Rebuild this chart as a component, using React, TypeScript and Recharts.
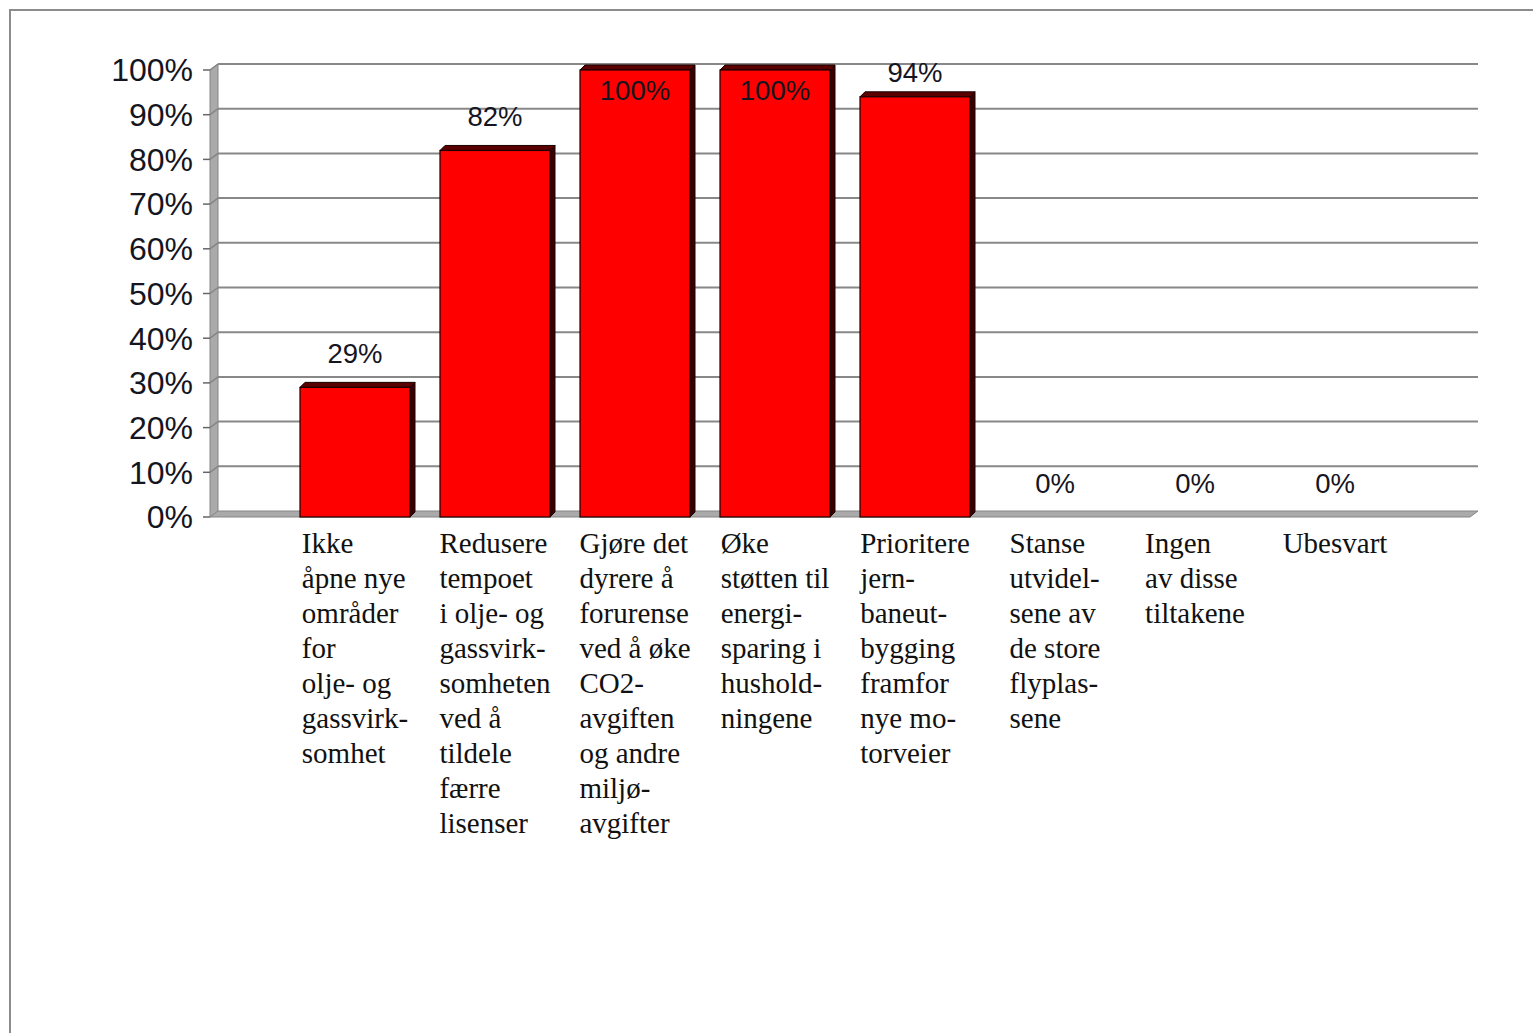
import React from "react";
import { BarChart, Bar, XAxis, YAxis, CartesianGrid, LabelList } from "recharts";

const categories = [
  "Ikke\nåpne nye\nområder\nfor\nolje- og\ngassvirk-\nsomhet",
  "Redusere\ntempoet\ni olje- og\ngassvirk-\nsomheten\nved å\ntildele\nfærre\nlisenser",
  "Gjøre det\ndyrere å\nforurense\nved å øke\nCO2-\navgiften\nog andre\nmiljø-\navgifter",
  "Øke\nstøtten til\nenergi-\nsparing i\nhushold-\nningene",
  "Prioritere\njern-\nbaneut-\nbygging\nframfor\nnye mo-\ntorveier",
  "Stanse\nutvidel-\nsene av\nde store\nflyplas-\nsene",
  "Ingen\nav disse\ntiltakene",
  "Ubesvart",
];
const values = [29, 82, 100, 100, 94, 0, 0, 0];
const yTicks = [0, 10, 20, 30, 40, 50, 60, 70, 80, 90, 100];

const data = categories.map((name, i) => ({ name, value: values[i] }));

const W = 1533;
const H = 1033;
const MARGIN = { top: 70, right: 63, bottom: 186, left: 110 };
const Y_AXIS_W = 100;
const X_AXIS_H = 330;
const PLOT_TOP = MARGIN.top;
const PLOT_BOTTOM = H - MARGIN.bottom - X_AXIS_H;
const DX = 8;
const DY = -6;
const SANS = '"Liberation Sans", Arial, sans-serif';
const SERIF = '"Liberation Serif", "Times New Roman", serif';
const X_FONT = 29;

let measureCtx: CanvasRenderingContext2D | null = null;
function measure(text: string, font: string): number {
  if (!measureCtx) {
    const c = document.createElement("canvas");
    measureCtx = c.getContext("2d");
  }
  if (!measureCtx) return text.length * 13;
  measureCtx.font = font;
  return measureCtx.measureText(text).width;
}

const XTick = (props: any) => {
  const { x, y, payload } = props;
  const lines: string[] = String(payload.value).split("\n");
  const font = `${X_FONT}px ${SERIF}`;
  const maxW = Math.max(...lines.map((l) => measure(l, font)));
  const left = x - maxW / 2;
  return (
    <text x={left} y={y + 36} fontFamily={SERIF} fontSize={X_FONT} fill="#111">
      {lines.map((l, i) => (
        <tspan key={i} x={left} dy={i === 0 ? 0 : 35}>
          {l}
        </tspan>
      ))}
    </text>
  );
};

const GridLine = (props: any) => {
  const { x1, y1, x2, y2 } = props;
  const isFloor = Math.abs(y1 - PLOT_BOTTOM) < 1;
  if (isFloor) {
    return (
      <g>
        <polygon
          points={`${x1},${PLOT_TOP} ${x1 + DX},${PLOT_TOP + DY} ${x1 + DX},${PLOT_BOTTOM + DY} ${x1},${PLOT_BOTTOM}`}
          fill="#aaaaaa"
          stroke="#858585"
          strokeWidth={1}
        />
        <polygon
          points={`${x1},${y1} ${x2},${y2} ${x2 + DX},${y2 + DY} ${x1 + DX},${y1 + DY}`}
          fill="#aaaaaa"
          stroke="#858585"
          strokeWidth={1}
        />
      </g>
    );
  }
  return (
    <g>
      <line x1={x1} y1={y1} x2={x1 + DX} y2={y1 + DY} stroke="#858585" strokeWidth={1.5} />
      <line x1={x1 + DX} y1={y1 + DY} x2={x2 + DX} y2={y2 + DY} stroke="#888888" strokeWidth={2} />
    </g>
  );
};

const Bar3D = (props: any) => {
  const { x, y, width, height } = props;
  if (!height || height <= 0) return <g />;
  const bx = 5;
  const by = -5;
  return (
    <g>
      <polygon
        points={`${x + width},${y} ${x + width + bx},${y + by} ${x + width + bx},${y + height + by} ${x + width},${y + height}`}
        fill="#3a0000"
        stroke="#1a0000"
        strokeWidth={1}
      />
      <polygon
        points={`${x},${y} ${x + bx},${y + by} ${x + width + bx},${y + by} ${x + width},${y}`}
        fill="#5a0000"
        stroke="#1a0000"
        strokeWidth={1}
      />
      <rect x={x} y={y} width={width} height={height} fill="#ff0000" stroke="#1a0000" strokeWidth={1.2} />
    </g>
  );
};

const renderLabel = (props: any) => {
  const { x, y, width, value } = props;
  const cx = Number(x) + Number(width) / 2;
  const top = Number(y);
  let ly: number;
  if (value >= 99) ly = top + 20;
  else ly = Math.max(top - 34, PLOT_TOP + 2);
  return (
    <text
      x={cx}
      y={ly}
      textAnchor="middle"
      dominantBaseline="central"
      fontFamily={SANS}
      fontSize={27.5}
      fill="#15151f"
    >
      {`${value}%`}
    </text>
  );
};

export default function App() {
  return (
    <div
      style={{
        position: "absolute",
        left: 0,
        top: 0,
        width: W,
        height: H,
        overflow: "hidden",
        background: "#fff",
      }}
    >
      <div
        style={{
          position: "absolute",
          left: 9,
          top: 9,
          width: 1700,
          height: 1200,
          border: "2px solid #8c8c8c",
        }}
      />
      <div style={{ position: "absolute", left: 0, top: 0 }}>
        <BarChart width={W} height={H} data={data} margin={MARGIN}>
          <CartesianGrid horizontal={GridLine} vertical={false} />
          <XAxis
            dataKey="name"
            height={X_AXIS_H}
            padding={{ left: 75, right: 65 }}
            interval={0}
            tick={<XTick />}
            tickLine={false}
            axisLine={false}
            tickSize={0}
            tickMargin={0}
          />
          <YAxis
            width={Y_AXIS_W}
            domain={[0, 100]}
            ticks={yTicks}
            interval={0}
            tickFormatter={(v: number) => `${v}%`}
            axisLine={false}
            tickLine={{ stroke: "#666", strokeWidth: 1.5 }}
            tickSize={7}
            tickMargin={10}
            tick={{ fontFamily: SANS, fontSize: 32, fill: "#15151f" }}
          />
          <Bar dataKey="value" barSize={110} shape={<Bar3D />} isAnimationActive={false}>
            <LabelList dataKey="value" content={renderLabel} />
          </Bar>
        </BarChart>
      </div>
    </div>
  );
}
